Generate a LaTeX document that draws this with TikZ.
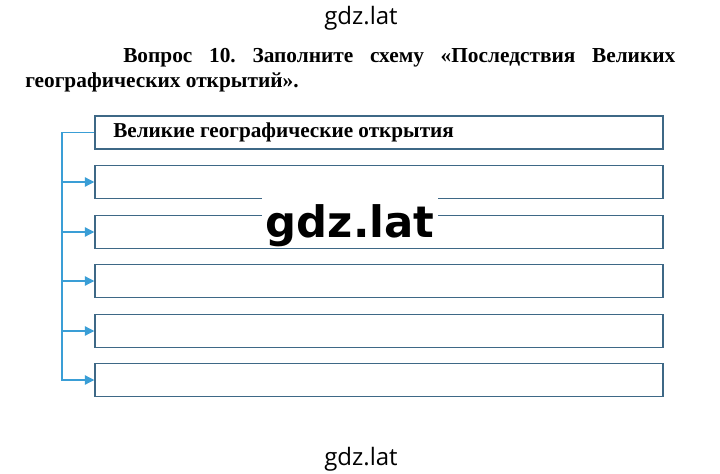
\documentclass[tikz,border=0pt]{standalone}
\usepackage{fontspec}
\setmainfont{Liberation Serif}
\newfontfamily\wmfont{Open Sans}
\newfontfamily\wmbold{DejaVu Sans}
\usetikzlibrary{arrows.meta}
\definecolor{boxblue}{RGB}{62,104,134}
\definecolor{linkblue}{RGB}{58,158,214}
\tikzset{
  answerbox/.style={draw=boxblue, line width=1.1pt, minimum width=426pt, minimum height=24.5pt, inner sep=0pt},
  link/.style={draw=linkblue, line width=0.9pt},
  linkarrow/.style={link, -{Triangle[length=7pt,width=7pt]}},
  watermark/.style={inner sep=0.75pt, font=\wmfont\fontsize{18}{20}\selectfont},
  question/.style={anchor=base west, inner sep=0pt, font=\frenchspacing\bfseries\fontsize{16}{18}\selectfont}
}
\begin{document}
\begin{tikzpicture}[x=0.75pt,y=0.75pt,yscale=-1,xscale=1]
            \useasboundingbox (0,0) rectangle (720,474);
            % Text Node
            \node [watermark] (wmtop) at (361,18) {gdz.lat};
            % Text Node
            \node [question] (q1) at (123,63) {\makebox[414pt][s]{Вопрос 10. Заполните схему «Последствия Великих}};
            % Text Node
            \node [question] (q2) at (25,88) {географических открытий».};
            %Shape: Rectangle
            \node [answerbox] (b1) at (379,132.5) {};
            \node [answerbox] (b2) at (379,182) {};
            \node [answerbox] (b3) at (379,232) {};
            \node [answerbox] (b4) at (379,281) {};
            \node [answerbox] (b5) at (379,331) {};
            \node [answerbox] (b6) at (379,380) {};
            % Text Node
            \node [anchor=base west, inner sep=0pt, font=\bfseries\fontsize{15.9}{17}\selectfont] (t1) at (113,137.5) {Великие географические открытия};
            %Lines
            \coordinate (rail) at (62,132.5);
            \draw [linkarrow] (b1.west) -- (rail) |- (b6.west);
            \foreach \k in {2,...,5} {
              \draw [linkarrow] (rail |- b\k.west) -- (b\k.west);
            }
            % Text Node
            \node [anchor=base, inner xsep=2.5pt, inner ysep=0pt, text height=30.75pt, text depth=6pt, fill=white, font=\wmbold\bfseries\fontsize{32.5}{34}\selectfont] (wmmid) at (350,237) {gdz.lat};
            % Text Node
            \node [watermark] (wmbot) at (361,459) {gdz.lat};
\end{tikzpicture}
\end{document}
